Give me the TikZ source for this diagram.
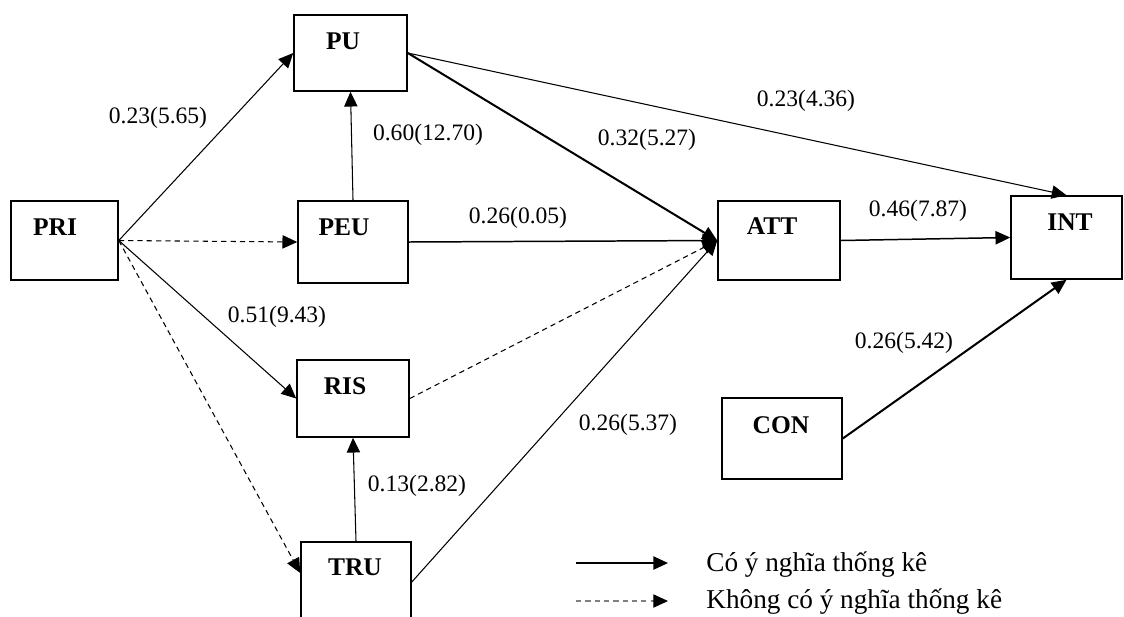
\documentclass[tikz,border=0pt]{standalone}
\usepackage{fontspec}
\setmainfont{Liberation Serif}
\usetikzlibrary{arrows.meta}
\begin{document}
\begin{tikzpicture}[x=0.02cm,y=-0.02cm,
  box/.style={draw,line width=0.9pt,inner sep=0pt,fill=white},
  boxlabel/.style={font=\fontsize{14.5}{16}\selectfont\bfseries,inner sep=0pt},
  coef/.style={font=\fontsize{13.4}{15}\selectfont,inner sep=0pt},
  legtext/.style={font=\fontsize{15.5}{17}\selectfont,inner sep=0pt,anchor=west},
  arr/.style={line width=0.6pt,-{Triangle[length=8.4pt,width=7.6pt]}},
  arrm/.style={line width=0.85pt,-{Triangle[length=8.4pt,width=7.6pt]}},
  arrt/.style={line width=1.15pt,-{Triangle[length=8.4pt,width=7.6pt]}},
  darr/.style={line width=0.6pt,dash pattern=on 3pt off 2.3pt,-{Triangle[length=8.4pt,width=7.6pt]}}]
\useasboundingbox (0,0) rectangle (1124,616);
% boxes
\node[box,minimum width=2.14cm,minimum height=1.58cm] (pri) at (64.5,240.5) {};
\node[box,minimum width=2.26cm,minimum height=1.52cm] (pu) at (350.5,53) {};
\node[box,minimum width=2.20cm,minimum height=1.64cm] (peu) at (353,242) {};
\node[box,minimum width=2.44cm,minimum height=1.58cm] (att) at (779,240.5) {};
\node[box,minimum width=2.22cm,minimum height=1.66cm] (int) at (1066.5,237.5) {};
\node[box,minimum width=2.24cm,minimum height=1.54cm] (ris) at (353,398.5) {};
\node[box,minimum width=2.20cm,minimum height=1.60cm] (tru) at (356,582) {};
\node[box,minimum width=2.40cm,minimum height=1.62cm] (con) at (782,438.5) {};
% box labels
\node[boxlabel] (pril) at (55,227) {PRI};
\node[boxlabel] (pul) at (343,41) {PU};
\node[boxlabel] (peul) at (344,227) {PEU};
\node[boxlabel] (attl) at (772,226) {ATT};
\node[boxlabel] (intl) at (1070,222) {INT};
\node[boxlabel] (risl) at (345,386) {RIS};
\node[boxlabel] (trul) at (355,567) {TRU};
\node[boxlabel] (conl) at (781,425) {CON};
% connectors
\draw[arr] (pri.east) -- (pu.west);
\draw[darr] (pri.east) -- (peu.west);
\draw[arr] (pri.east) -- (ris.west);
\draw[darr] (pri.east) -- ([yshift=0.18cm]tru.west);
\draw[arr] (peu.north) -- (pu.south);
\draw[arrt] (pu.east) -- (att.west);
\draw[arr] (pu.east) -- (int.north);
\draw[arrm] (peu.east) -- (att.west);
\draw[darr] (ris.east) -- (att.west);
\draw[arr] (tru.east) -- (att.west);
\draw[arr] (tru.north) -- (ris.south);
\draw[arrm] (att.east) -- (int.west);
\draw[arrt] (con.east) -- (int.south);
% coefficients
\node[coef] (c1) at (158,118) {0.23(5.65)};
\node[coef] (c2) at (428,135) {0.60(12.70)};
\node[coef] (c3) at (647,140) {0.32(5.27)};
\node[coef] (c4) at (806,101) {0.23(4.36)};
\node[coef] (c5) at (518,218) {0.26(0.05)};
\node[coef] (c6) at (918,211) {0.46(7.87)};
\node[coef] (c7) at (277,317) {0.51(9.43)};
\node[coef] (c8) at (904,343) {0.26(5.42)};
\node[coef] (c9) at (628,425) {0.26(5.37)};
\node[coef] (c10) at (417,486) {0.13(2.82)};
% legend
\coordinate (l1a) at (576,563);
\coordinate (l1b) at (668,563);
\coordinate (l2a) at (576,601);
\coordinate (l2b) at (668,601);
\draw[arrm] (l1a) -- (l1b);
\draw[darr,draw=gray,-{Triangle[length=8.4pt,width=7.6pt,color=black]}] (l2a) -- (l2b);
\node[legtext] (lt1) at (706,565) {Có ý nghĩa thống kê};
\node[legtext] (lt2) at (706,602) {Không có ý nghĩa thống kê};
\end{tikzpicture}
\end{document}
